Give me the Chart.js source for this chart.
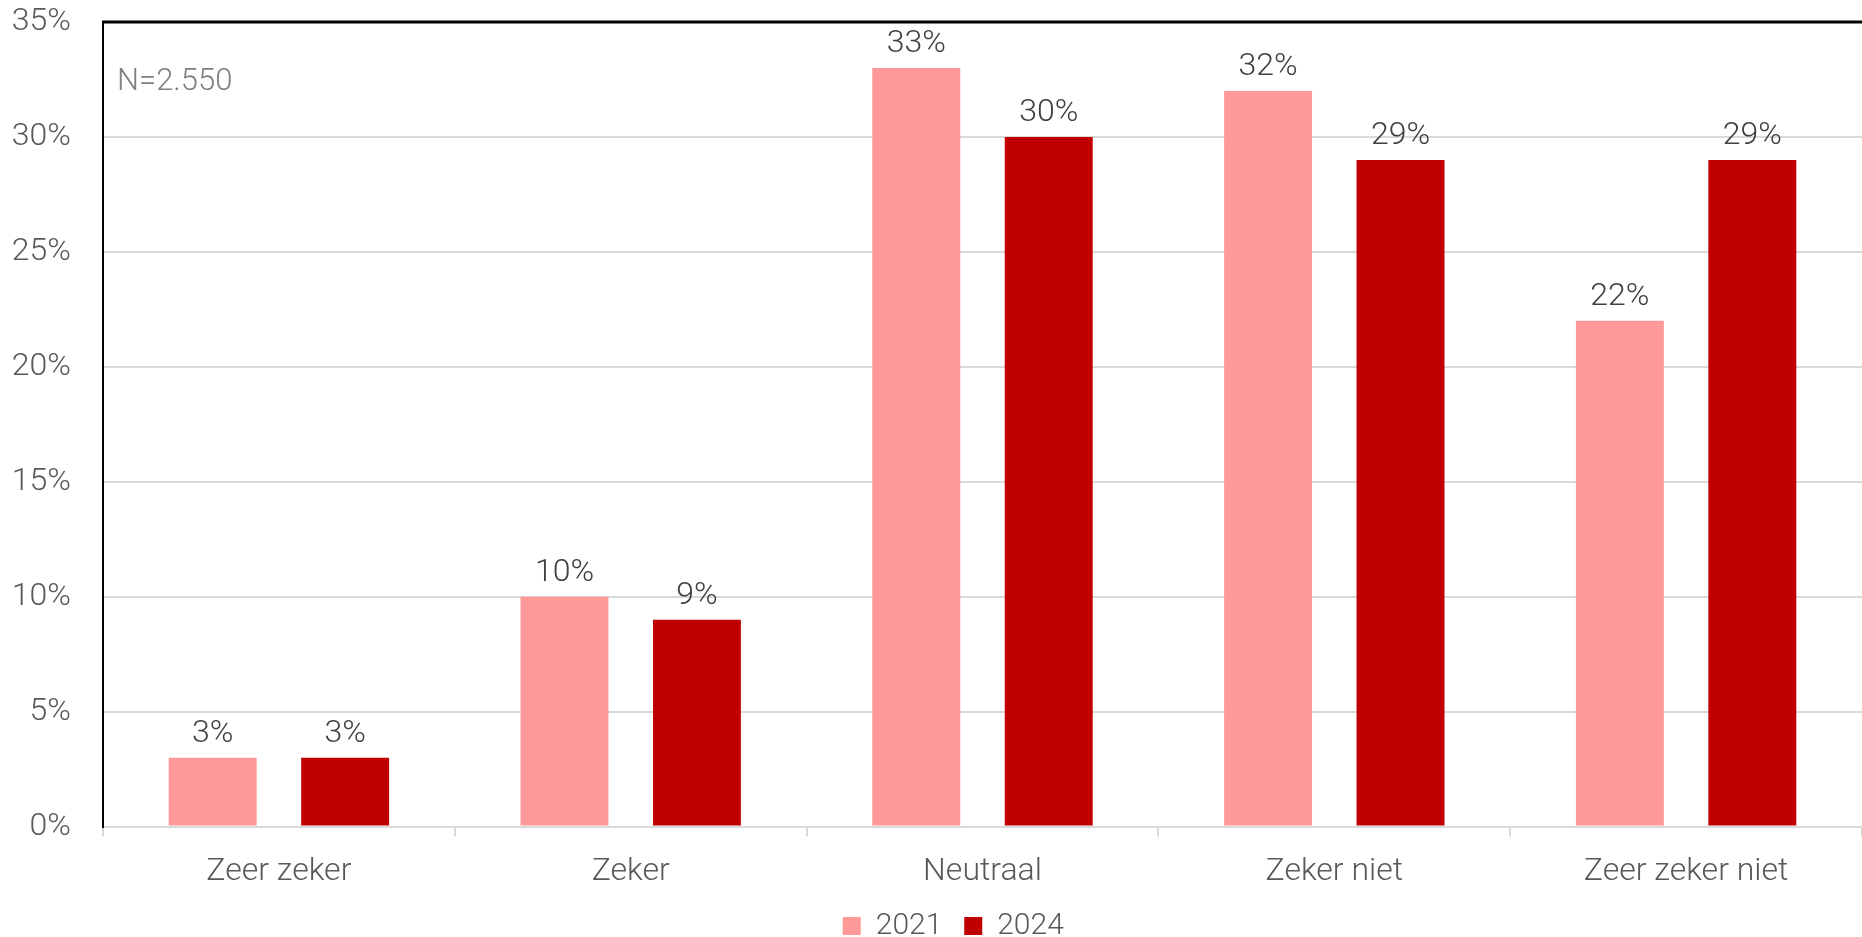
<!DOCTYPE html>
<html lang="nl">
<head>
    <meta charset="UTF-8">
    <title>Zeker / niet zeker 2021 vs 2024</title>
    <script src="https://cdn.jsdelivr.net/npm/chart.js@4.4.1/dist/chart.umd.min.js"></script>
    <style>
        html, body {
            margin: 0;
            padding: 0;
            background: #ffffff;
        }
        .chart-container {
            width: 1862px;
            height: 937px;
        }
    </style>
</head>
<body>
    <div class="chart-container">
        <canvas id="barChart"></canvas>
    </div>

    <script>
        // data
        const categories = ['Zeer zeker', 'Zeker', 'Neutraal', 'Zeker niet', 'Zeer zeker niet'];
        const values2021 = [3, 10, 33, 32, 22];
        const values2024 = [3, 9, 30, 29, 29];
        const seriesLabels = ['2021', '2024'];
        const yTicks = [0, 5, 10, 15, 20, 25, 30, 35];
        const sampleNote = 'N=2.550';

        const fontFamily = 'Roboto, "Noto Sans", sans-serif';

        // value labels above each bar
        const valueLabels = {
            id: 'valueLabels',
            afterDatasetsDraw(chart) {
                const ctx = chart.ctx;
                ctx.save();
                ctx.font = '300 32px ' + fontFamily;
                ctx.fillStyle = '#404040';
                ctx.textAlign = 'center';
                ctx.textBaseline = 'alphabetic';
                chart.data.datasets.forEach((ds, i) => {
                    chart.getDatasetMeta(i).data.forEach((bar, j) => {
                        ctx.fillText(ds.data[j] + '%', bar.x, bar.y - 16);
                    });
                });
                ctx.restore();
            }
        };

        // black top border of the plot area and the N note
        const plotFrame = {
            id: 'plotFrame',
            afterDraw(chart) {
                const ctx = chart.ctx;
                const area = chart.chartArea;
                ctx.save();
                ctx.strokeStyle = '#000000';
                ctx.lineWidth = 3;
                ctx.beginPath();
                ctx.moveTo(area.left - 1, area.top);
                ctx.lineTo(area.right, area.top);
                ctx.stroke();
                ctx.font = '300 31px ' + fontFamily;
                ctx.fillStyle = '#7f7f7f';
                ctx.textAlign = 'left';
                ctx.textBaseline = 'alphabetic';
                ctx.fillText(sampleNote, area.left + 14, area.top + 68);
                ctx.restore();
            }
        };

        new Chart(document.getElementById('barChart'), {
            type: 'bar',
            data: {
                labels: categories,
                datasets: [{
                    label: seriesLabels[0],
                    data: values2021,
                    backgroundColor: '#FF9999',
                    categoryPercentage: 0.753,
                    barPercentage: 0.664
                }, {
                    label: seriesLabels[1],
                    data: values2024,
                    backgroundColor: '#C00000',
                    categoryPercentage: 0.753,
                    barPercentage: 0.664
                }]
            },
            options: {
                responsive: true,
                maintainAspectRatio: false,
                animation: false,
                layout: {
                    padding: { top: 22, right: 0, bottom: -14, left: 0 }
                },
                plugins: {
                    legend: {
                        position: 'bottom',
                        fullSize: false,
                        labels: {
                            boxWidth: 18,
                            boxHeight: 18,
                            padding: 0,
                            color: '#595959',
                            font: { family: fontFamily, size: 30, weight: '300' },
                            generateLabels(chart) {
                                const items = Chart.defaults.plugins.legend.labels.generateLabels(chart);
                                items[0].text += '   ';
                                items[items.length - 1].text += '        ';
                                return items;
                            }
                        }
                    },
                    tooltip: { enabled: false }
                },
                scales: {
                    x: {
                        afterFit(scale) {
                            scale.paddingLeft = 0;
                            scale.paddingRight = 0;
                            scale.height += 4;
                        },
                        grid: {
                            offset: true,
                            drawOnChartArea: false,
                            drawTicks: true,
                            tickLength: 10,
                            color: '#d9d9d9',
                            lineWidth: 2
                        },
                        border: { color: '#d9d9d9', width: 2 },
                        ticks: {
                            padding: 16,
                            color: '#595959',
                            font: { family: fontFamily, size: 32, weight: '300' }
                        }
                    },
                    y: {
                        min: 0,
                        max: 35,
                        afterFit(scale) {
                            scale.width = 103;
                            scale.paddingTop = 0;
                            scale.paddingBottom = 0;
                        },
                        afterBuildTicks(scale) {
                            scale.ticks = yTicks.map(v => ({ value: v }));
                        },
                        grid: {
                            drawTicks: false,
                            color: '#d9d9d9',
                            lineWidth: 2
                        },
                        border: { color: '#000000', width: 2 },
                        ticks: {
                            padding: 32,
                            color: '#595959',
                            font: { family: fontFamily, size: 32, weight: '300' },
                            callback: v => v + '%'
                        }
                    }
                }
            },
            plugins: [valueLabels, plotFrame]
        });
    </script>
</body>
</html>
